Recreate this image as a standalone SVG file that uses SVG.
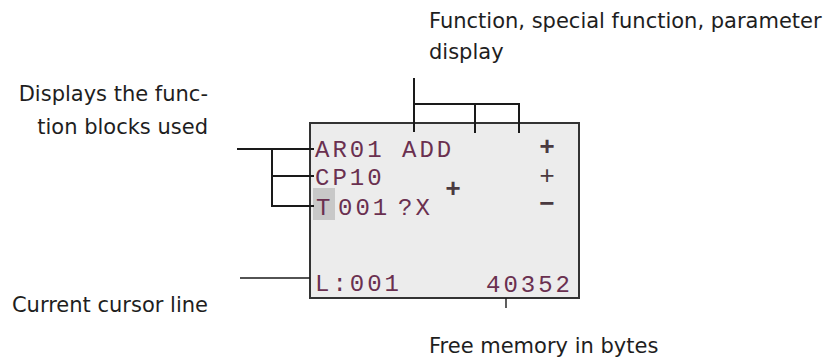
<svg xmlns="http://www.w3.org/2000/svg" width="836" height="360" viewBox="0 0 836 360">
  <style>
    .lbl { font-family: "DejaVu Sans", "Liberation Sans", sans-serif; font-size: 21px; fill: #1e1e1e; }
    .lcd { font-family: "Liberation Mono", "DejaVu Sans Mono", monospace; font-size: 24px; letter-spacing: 3px; fill: #6a3050; }
    .mark { font-family: "Liberation Mono", "DejaVu Sans Mono", monospace; font-size: 26px; fill: #4a3a40; text-anchor: middle; }
    .conn { stroke: #1a1a1a; stroke-width: 2; fill: none; }
    .thin { stroke: #1a1a1a; stroke-width: 1.4; fill: none; }
  </style>
  <rect width="836" height="360" fill="#ffffff"/>

  <g id="display">
    <rect x="310" y="123" width="269" height="175" fill="#ececec" stroke="#333333" stroke-width="2"/>
    <rect x="313" y="188" width="22" height="32" fill="#c8c8c8"/>
    <text class="lcd" x="315" y="157">AR01 ADD</text>
    <text class="lcd" x="315" y="185">CP10</text>
    <text class="lcd" x="316" y="215">T</text>
    <text class="lcd" x="338" y="215">001</text>
    <text class="lcd" x="398" y="215">?X</text>
    <text class="lcd" x="315" y="291">L:001</text>
    <text class="lcd" x="486" y="292">40352</text>
    <text class="mark" x="547" y="155" font-weight="bold">+</text>
    <text class="mark" x="547" y="184">+</text>
    <text class="mark" x="547" y="212" font-weight="bold">−</text>
    <text class="mark" x="453" y="197" font-weight="bold">+</text>
  </g>

  <g id="label-function">
    <text class="lbl" x="429" y="28">Function, special function, parameter</text>
    <text class="lbl" x="429" y="59">display</text>
  </g>

  <g id="label-blocks">
    <text class="lbl" x="208" y="101" text-anchor="end">Displays the func-</text>
    <text class="lbl" x="208" y="134" text-anchor="end">tion blocks used</text>
  </g>

  <g id="label-cursor">
    <text class="lbl" x="208" y="312" text-anchor="end">Current cursor line</text>
  </g>

  <g id="label-memory">
    <text class="lbl" x="429" y="353">Free memory in bytes</text>
  </g>

  <g id="connectors">
    <path class="conn" d="M414 78 V132"/>
    <path class="conn" d="M414 104 H519 V133"/>
    <path class="conn" d="M475 104 V133"/>
    <path class="conn" d="M237 149 H314"/>
    <path class="conn" d="M272 149 V206 H314"/>
    <path class="conn" d="M272 176 H314"/>
    <path class="thin" d="M240 278 H310"/>
    <path class="thin" d="M506 298 V308"/>
  </g>
</svg>
